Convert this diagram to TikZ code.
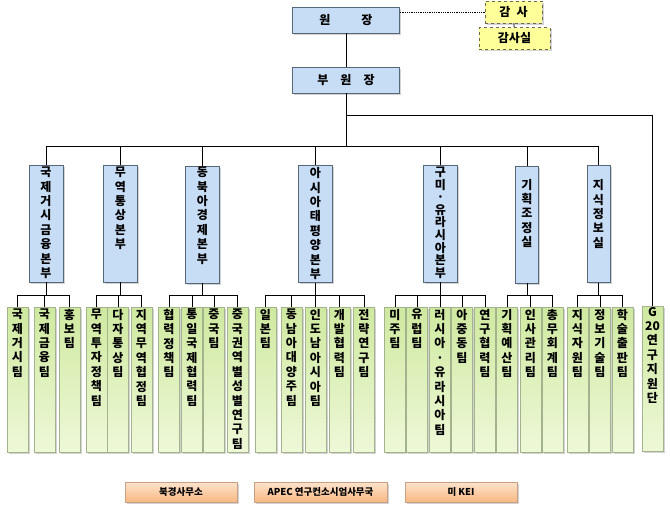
\documentclass[tikz,border=0pt]{standalone}
\usepackage{fontspec}
\setmainfont{Noto Sans CJK KR}
\usetikzlibrary{shadows}

\definecolor{deptfill}{HTML}{C6DDF5}
\definecolor{deptline}{HTML}{56677A}
\definecolor{teamtop}{HTML}{CFE9A0}
\definecolor{teambot}{HTML}{EEF8D8}
\definecolor{teamline}{HTML}{A3B38E}
\definecolor{auditfill}{HTML}{FFFF99}
\definecolor{auditline}{HTML}{6E6A48}
\definecolor{officetop}{HTML}{FDE3CC}
\definecolor{officebot}{HTML}{F8B884}
\definecolor{officeline}{HTML}{C9A083}

% characters stacked top-down in a column
\newcommand\vcol[2]{\parbox[c][#1][t]{18pt}{\lineskiplimit=-20pt\centering #2}}

\begin{document}
\begin{tikzpicture}[x=1pt,y=-1pt]
        \tikzstyle{every node}=[inner sep=0pt, font=\fontsize{12}{14.4}\selectfont\bfseries]
        \tikzstyle{shade box}=[drop shadow={shadow xshift=1.5pt, shadow yshift=-1.5pt, opacity=.35}]
        \tikzstyle{head}=[shade box, draw=deptline, fill=deptfill, minimum width=107, minimum height=26]
        \tikzstyle{audit}=[shade box, draw=auditline, dashed, line width=0.8pt, fill=auditfill, minimum height=22]
        \tikzstyle{dept}=[shade box, draw=deptline, fill=deptfill, minimum height=117]
        \tikzstyle{team}=[shade box, draw=teamline, top color=teamtop, bottom color=teambot, minimum width=21, minimum height=145]
        \tikzstyle{office}=[shade box, draw=officeline, top color=officetop, bottom color=officebot, minimum height=20, font=\fontsize{9.5}{11}\selectfont\bfseries]
        \tikzstyle{link}=[line width=0.9pt]
        \useasboundingbox (0,0) rectangle (670,531);

        \node[head] (won) at (346,20) {원\hspace{31pt}장};
        \node[head] (buwon) at (346,80) {부\hspace{12pt}원\hspace{12pt}장};
        \node[audit, minimum width=57] (gamsa) at (513.5,12) {감\hspace{6pt}사};
        \node[audit, minimum width=71] (gamsasil) at (514.5,38.5) {감사실};

        \coordinate (gbus) at (0,115);
        \coordinate (dbus) at (0,146);
        \coordinate (tbus) at (0,295);

        \node[dept, minimum width=34] (d1) at (46,223.5) {\vcol{113pt}{국\\제\\거\\시\\금\\융\\본\\부}};
        \node[dept, minimum width=34] (d2) at (120.5,223.5) {\vcol{113pt}{무\\역\\통\\상\\본\\부}};
        \node[dept, minimum width=34] (d3) at (202.5,224.5) {\vcol{115pt}{동\\북\\아\\경\\제\\본\\부}};
        \node[dept, minimum width=34] (d4) at (315.5,224) {\vcol{113pt}{아\\시\\아\\태\\평\\양\\본\\부}};
        \node[dept, minimum width=34] (d5) at (440.5,223.5) {\vcol{113pt}{\baselineskip=12.6pt 구\\미\\·\\유\\라\\시\\아\\본\\부}};
        \node[dept, minimum width=23] (d6) at (527,224.5) {\vcol{113pt}{\vspace*{11pt}기\\획\\조\\정\\실}};
        \node[dept, minimum width=23] (d7) at (598.5,224) {\vcol{113pt}{\vspace*{12pt}지\\식\\정\\보\\실}};

        \node[team] (t1) at (17.5,379.5) {\vcol{141pt}{국\\제\\거\\시\\팀}};
        \node[team] (t2) at (44.5,379.5) {\vcol{141pt}{국\\제\\금\\융\\팀}};
        \node[team] (t3) at (69.5,379.5) {\vcol{141pt}{홍\\보\\팀}};
        \node[team] (t4) at (96.5,379.5) {\vcol{141pt}{무\\역\\투\\자\\정\\책\\팀}};
        \node[team] (t5) at (118,379.5) {\vcol{141pt}{다\\자\\통\\상\\팀}};
        \node[team] (t6) at (141.5,379.5) {\vcol{141pt}{지\\역\\무\\역\\협\\정\\팀}};
        \node[team] (t7) at (169,379.5) {\vcol{141pt}{협\\력\\정\\책\\팀}};
        \node[team] (t8) at (192,379.5) {\vcol{141pt}{통\\일\\국\\제\\협\\력\\팀}};
        \node[team] (t9) at (214,379.5) {\vcol{141pt}{중\\국\\팀}};
        \node[team] (t10) at (237.5,379.5) {\vcol{141pt}{중\\국\\권\\역\\별\\성\\별\\연\\구\\팀}};
        \node[team] (t11) at (265.5,379.5) {\vcol{141pt}{일\\본\\팀}};
        \node[team] (t12) at (291.5,379.5) {\vcol{141pt}{동\\남\\아\\대\\양\\주\\팀}};
        \node[team] (t13) at (315.5,379.5) {\vcol{141pt}{인\\도\\남\\아\\시\\아\\팀}};
        \node[team] (t14) at (339.5,379.5) {\vcol{141pt}{개\\발\\협\\력\\팀}};
        \node[team] (t15) at (364,379.5) {\vcol{141pt}{전\\략\\연\\구\\팀}};
        \node[team] (t16) at (395,379.5) {\vcol{141pt}{미\\주\\팀}};
        \node[team] (t17) at (417,379.5) {\vcol{141pt}{유\\럽\\팀}};
        \node[team] (t18) at (440,379.5) {\vcol{141pt}{러\\시\\아\\·\\유\\라\\시\\아\\팀}};
        \node[team] (t19) at (462,379.5) {\vcol{141pt}{아\\중\\동\\팀}};
        \node[team] (t20) at (485,379.5) {\vcol{141pt}{연\\구\\협\\력\\팀}};
        \node[team] (t21) at (507,379.5) {\vcol{141pt}{기\\획\\예\\산\\팀}};
        \node[team] (t22) at (530.5,379.5) {\vcol{141pt}{인\\사\\관\\리\\팀}};
        \node[team] (t23) at (552.5,379.5) {\vcol{141pt}{총\\무\\회\\계\\팀}};
        \node[team] (t24) at (577.5,379.5) {\vcol{141pt}{지\\식\\자\\원\\팀}};
        \node[team] (t25) at (600,379.5) {\vcol{141pt}{정\\보\\기\\술\\팀}};
        \node[team] (t26) at (622.5,379.5) {\vcol{141pt}{학\\술\\출\\판\\팀}};
        \node[team] (g20) at (652.5,378.5) {\vcol{143pt}{G\\20\\연\\구\\지\\원\\단}};

        \node[office, minimum width=112] (beijing) at (181,492) {북경사무소};
        \node[office, minimum width=133] (apec) at (320.5,492) {APEC 연구컨소시엄사무국};
        \node[office, minimum width=112] (kei) at (461,492) {미 KEI};

        \draw[densely dotted, line width=0.8pt] (won.east |- gamsa.west) -- (gamsa.west);
        \draw[link] (gamsa) -- (gamsasil);
        \draw[link] (won) -- (buwon);
        \draw[link] (buwon.south) -- (buwon.south |- dbus);
        \draw[link] (buwon.south |- gbus) -| (g20.north);
        \foreach \d in {1,...,7}
            \draw[link] (buwon.south |- dbus) -| (d\d.north);
        \foreach \d/\first/\last in {1/1/3, 2/4/6, 3/7/10, 4/11/15, 5/16/20, 6/21/23, 7/24/26}
        {
            \draw[link] (d\d.south) -- (d\d.south |- tbus);
            \foreach \t in {\first,...,\last}
                \draw[link] (d\d.south |- tbus) -| (t\t.north);
        }
\end{tikzpicture}
\end{document}
